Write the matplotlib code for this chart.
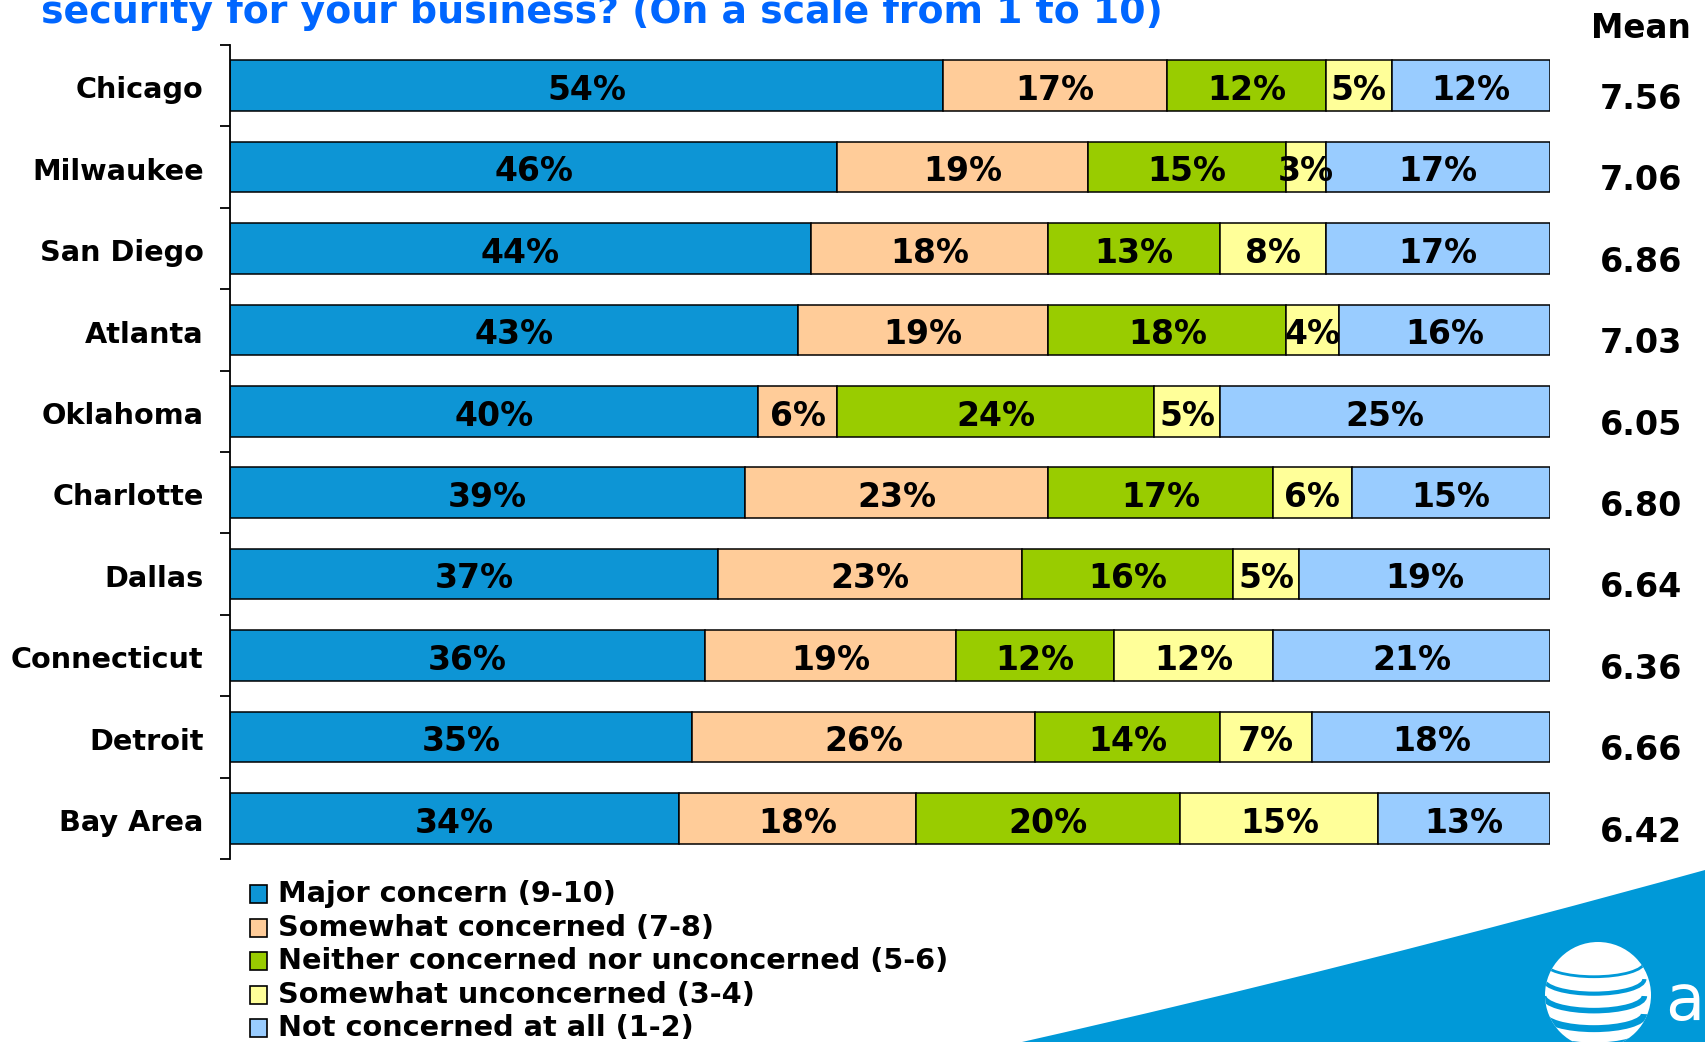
import numpy as np
import matplotlib
import matplotlib.pyplot as plt
from matplotlib.patches import Rectangle, PathPatch, Circle, Arc
from matplotlib.path import Path

matplotlib.use('Agg')

# Data
cities = ['Chicago', 'Milwaukee', 'San Diego', 'Atlanta', 'Oklahoma',
          'Charlotte', 'Dallas', 'Connecticut', 'Detroit', 'Bay Area']
major = [54, 46, 44, 43, 40, 39, 37, 36, 35, 34]
somewhat = [17, 19, 18, 19, 6, 23, 23, 19, 26, 18]
neither = [12, 15, 13, 18, 24, 17, 16, 12, 14, 20]
unconcerned = [5, 3, 8, 4, 5, 6, 5, 12, 7, 15]
not_at_all = [12, 17, 17, 16, 25, 15, 19, 21, 18, 13]
means = [7.56, 7.06, 6.86, 7.03, 6.05, 6.80, 6.64, 6.36, 6.66, 6.42]

series_names = ['Major concern (9-10)', 'Somewhat concerned (7-8)',
                'Neither concerned nor unconcerned (5-6)',
                'Somewhat unconcerned (3-4)', 'Not concerned at all (1-2)']
colors = ['#0D95D5', '#FFCC99', '#99CC00', '#FFFF99', '#99CCFF']
title = 'security for your business? (On a scale from 1 to 10)'

W, H = 1705, 1042
fig = plt.figure(figsize=(W / 100, H / 100), dpi=100)

# Background decoration layer in pixel coordinates
deco = fig.add_axes([0, 0, 1, 1])
deco.set_xlim(0, W)
deco.set_ylim(H, 0)
deco.axis('off')
deco.set_zorder(1)

# Blue swoosh in the bottom right
swoosh = Path([(1022, 1042), (1354, 967), (1705, 870), (1705, 1042), (1022, 1042)],
              [Path.MOVETO, Path.CURVE3, Path.CURVE3, Path.LINETO, Path.CLOSEPOLY])
deco.add_patch(PathPatch(swoosh, facecolor='#0099D8', edgecolor='none'))

# rough globe logo
cx, cy, r = 1598, 995, 53
globe = Circle((cx, cy), r, facecolor='white', edgecolor='none')
deco.add_patch(globe)
for dy, lw in [(-0.62, 2.0), (-0.3, 3.0), (0.02, 4.0), (0.36, 5.0), (0.7, 6.0)]:
    a = Arc((cx - 4, cy + dy * r), 1.9 * r, 0.55 * r, theta1=0, theta2=180,
            color='#0099D8', lw=lw)
    deco.add_patch(a)
    a.set_clip_path(globe)
deco.text(1665, 1020, 'at', color='white', fontsize=46, va='baseline', ha='left')

# Title (cut off at top) and Mean header
deco.text(41, 23, title, color='#0066FF', fontsize=27.3, fontweight='bold', va='baseline')
deco.text(1641, 38, 'Mean', color='black', fontsize=23.5, fontweight='bold',
          va='baseline', ha='center')

# Legend drawn by hand
for i, (name, c) in enumerate(zip(series_names, colors)):
    ly = 894 + i * 33.6
    deco.add_patch(Rectangle((250, ly - 9), 17, 18, facecolor=c, edgecolor='black', lw=1.2))
    deco.text(278, ly, name, fontsize=20.7, fontweight='bold', va='center', ha='left')

# Main chart
ax = fig.add_axes([230 / W, 1 - 859 / H, 1320 / W, 814 / H])
ax.set_zorder(2)
ax.patch.set_alpha(0)

y = np.arange(len(cities))
left = np.zeros(len(cities))
for vals, c in zip([major, somewhat, neither, unconcerned, not_at_all], colors):
    vals = np.array(vals)
    ax.barh(y, vals, left=left, height=0.62, color=c, edgecolor='black', linewidth=1.1)
    for yi, l, v in zip(y, left, vals):
        ax.text(l + v / 2, yi + 0.06, f'{v}%', ha='center', va='center',
                fontsize=23.8, fontweight='bold')
    left += vals

trans = ax.get_yaxis_transform()
for yi, m in zip(y, means):
    ax.text(1.0689, yi + 0.17, f'{m:.2f}', transform=trans, ha='center', va='center',
            fontsize=24, fontweight='bold', clip_on=False)

ax.set_xlim(0, 100)
ax.set_ylim(len(cities) - 0.5, -0.5)
ax.set_yticks(y + 0.02)
ax.set_yticklabels(cities, fontsize=20.7, fontweight='bold')
ax.set_yticks(np.arange(-0.5, len(cities), 1.0), minor=True)
ax.tick_params(axis='y', which='major', length=0, pad=19)
ax.tick_params(axis='y', which='minor', length=7, width=1.3, direction='out')
ax.set_xticks([])
for s in ['top', 'right', 'bottom']:
    ax.spines[s].set_visible(False)
ax.spines['left'].set_linewidth(1.3)

plt.savefig('out.png', dpi=100)
